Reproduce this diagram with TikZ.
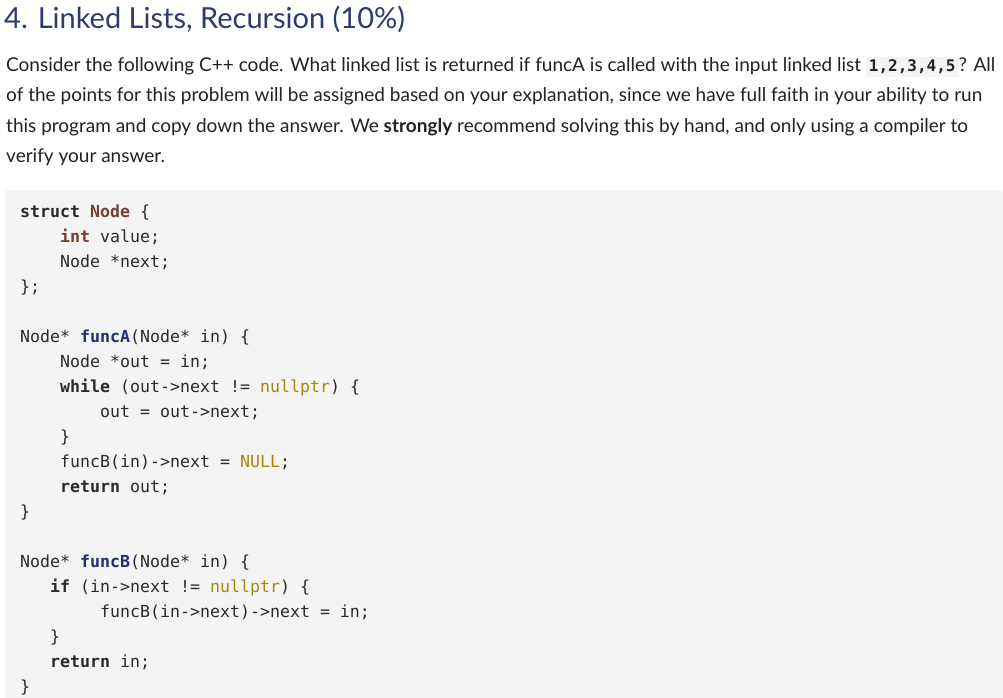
\documentclass[tikz,border=0pt]{standalone}
\usepackage{fontspec}
\setmainfont{Lato}
\newfontfamily\codefont{DejaVu Sans Mono}
\definecolor{titlec}{HTML}{2E3A6E}
\definecolor{txt}{HTML}{222222}
\definecolor{codebg}{HTML}{F4F4F4}
\definecolor{kw}{HTML}{2A2A2A}
\definecolor{ty}{HTML}{7A3E2E}
\definecolor{fn}{HTML}{1F2F7A}
\definecolor{lit}{HTML}{A5870A}
\newcommand{\K}[1]{\textbf{\textcolor{kw}{#1}}}
\newcommand{\T}[1]{\textbf{\textcolor{ty}{#1}}}
\newcommand{\F}[1]{\textbf{\textcolor{fn}{#1}}}
\newcommand{\Lt}[1]{\textcolor{lit}{#1}}
\begin{document}
\begin{tikzpicture}[x=1pt,y=-1pt,
  bodyline/.style={anchor=base west,inner sep=0,font=\fontsize{19}{20}\selectfont,text=txt},
  codeline/.style={anchor=base west,inner sep=0,font=\codefont\fontsize{16.6}{18}\selectfont,text=kw}]
\useasboundingbox (0,0) rectangle (1003,698);
\fill[white] (0,0) rectangle (1003,698);
\node[anchor=base west,inner sep=0,font=\fontsize{29}{30}\selectfont,text=titlec] (title) at (4,29) {4. Linked Lists, Recursion (10\%)};
\node[bodyline] (b1) at (6,72) {Consider the following C++ code. What linked list is returned if funcA is called with the input linked list \colorbox{codebg}{\codefont\bfseries\fontsize{16}{18}\selectfont 1,2,3,4,5}? All};
\node[bodyline] (b2) at (6,102) {of the points for this problem will be assigned based on your explanation, since we have full faith in your ability to run};
\node[bodyline] (b3) at (6,132) {this program and copy down the answer. We \textbf{strongly} recommend solving this by hand, and only using a compiler to};
\node[bodyline] (b4) at (6,162) {verify your answer.};
\fill[codebg,rounded corners=3pt] (5,190) rectangle (1003,705);
\node[codeline] (c1) at (20,217) {\K{struct} \T{Node} \{};
\node[codeline] (c2) at (20,242) {\phantom{xxxx}\T{int} value;};
\node[codeline] (c3) at (20,267) {\phantom{xxxx}Node *next;};
\node[codeline] (c4) at (20,292) {\};};
\node[codeline] (c6) at (20,342) {Node* \F{funcA}(Node* in) \{};
\node[codeline] (c7) at (20,367) {\phantom{xxxx}Node *out = in;};
\node[codeline] (c8) at (20,392) {\phantom{xxxx}\K{while} (out->next != \Lt{nullptr}) \{};
\node[codeline] (c9) at (20,417) {\phantom{xxxxxxxx}out = out->next;};
\node[codeline] (c10) at (20,442) {\phantom{xxxx}\}};
\node[codeline] (c11) at (20,467) {\phantom{xxxx}funcB(in)->next = \Lt{NULL};};
\node[codeline] (c12) at (20,492) {\phantom{xxxx}\K{return} out;};
\node[codeline] (c13) at (20,517) {\}};
\node[codeline] (c15) at (20,567) {Node* \F{funcB}(Node* in) \{};
\node[codeline] (c16) at (20,592) {\phantom{xxx}\K{if} (in->next != \Lt{nullptr}) \{};
\node[codeline] (c17) at (20,617) {\phantom{xxxxxxxx}funcB(in->next)->next = in;};
\node[codeline] (c18) at (20,642) {\phantom{xxx}\}};
\node[codeline] (c19) at (20,667) {\phantom{xxx}\K{return} in;};
\node[codeline] (c20) at (20,692) {\}};
\end{tikzpicture}
\end{document}
